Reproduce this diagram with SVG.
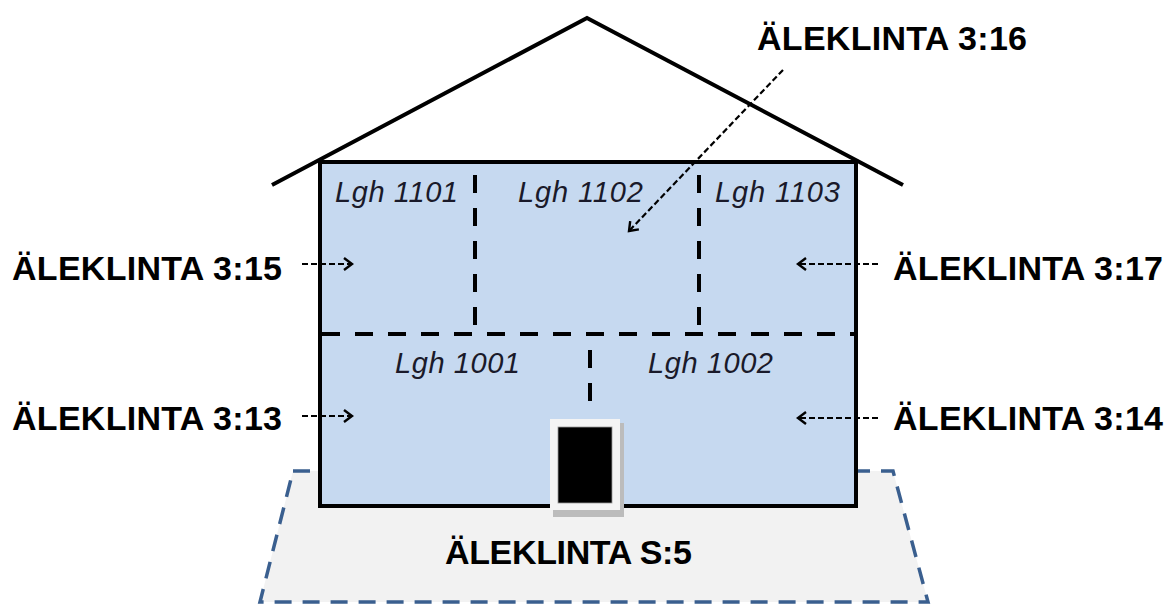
<svg xmlns="http://www.w3.org/2000/svg" width="1172" height="604" viewBox="0 0 1172 604">
<style>
.lbl{font-family:"Liberation Sans",Arial,sans-serif;font-weight:bold;font-size:34px;fill:#000}
.lgh{font-family:"Liberation Sans",Arial,sans-serif;font-style:italic;font-size:29px;fill:#1a1a2a}
.wall{fill:none;stroke:#000;stroke-width:4;stroke-dasharray:18,15}
.arr{fill:none;stroke:#000;stroke-width:2.2;stroke-dasharray:6,3;marker-end:url(#head)}
</style>
<defs>
<marker id="head" markerWidth="14" markerHeight="14" refX="10" refY="7" orient="auto" markerUnits="userSpaceOnUse">
<path d="M2,1 L10,7 L2,13" fill="none" stroke="#000" stroke-width="2.4"/>
</marker>
</defs>
<rect width="1172" height="604" fill="#fff"/>
<g id="foundation">
<polygon points="293,471 893,471 928,602 260,602" fill="#f2f2f2" stroke="#3a5f8f" stroke-width="3.5" stroke-dasharray="17,11"/>
</g>
<g id="building">
<rect x="320" y="162" width="536" height="344" fill="#c6d9f0" stroke="#000" stroke-width="4"/>
</g>
<g id="roof">
<polyline points="272,185 587,18 903,185" fill="none" stroke="#000" stroke-width="4"/>
</g>
<g id="walls">
<line class="wall" x1="322" y1="334" x2="854" y2="334"/>
<line class="wall" x1="475" y1="175" x2="475" y2="334"/>
<line class="wall" x1="699" y1="175" x2="699" y2="334"/>
<line class="wall" x1="590" y1="350" x2="590" y2="406" stroke-dasharray="19,16"/>
</g>
<g id="door">
<rect x="553" y="423" width="71" height="94" fill="#bcbcbc"/>
<rect x="550" y="419" width="70" height="91" fill="#f4f4f4"/>
<rect x="558" y="427" width="54" height="76" fill="#000" stroke="#999" stroke-width="0.8"/>
</g>
<g id="apartments">
<text class="lgh" x="335" y="202" textLength="123">Lgh 1101</text>
<text class="lgh" x="518" y="202" textLength="125">Lgh 1102</text>
<text class="lgh" x="715" y="202" textLength="125">Lgh 1103</text>
<text class="lgh" x="395" y="373" textLength="125">Lgh 1001</text>
<text class="lgh" x="648" y="373" textLength="125">Lgh 1002</text>
</g>
<g id="labels">
<text class="lbl" x="12" y="280" textLength="270">ÄLEKLINTA 3:15</text>
<text class="lbl" x="12" y="430" textLength="270">ÄLEKLINTA 3:13</text>
<text class="lbl" x="893" y="280" textLength="270">ÄLEKLINTA 3:17</text>
<text class="lbl" x="893" y="430" textLength="270">ÄLEKLINTA 3:14</text>
<text class="lbl" x="757" y="50" textLength="270">ÄLEKLINTA 3:16</text>
<text class="lbl" x="445" y="564" textLength="247">ÄLEKLINTA S:5</text>
</g>
<g id="connectors">
<line class="arr" x1="302" y1="264" x2="352" y2="264"/>
<line class="arr" x1="302" y1="416" x2="352" y2="416"/>
<line class="arr" x1="878" y1="264" x2="798" y2="264"/>
<line class="arr" x1="878" y1="418" x2="798" y2="418"/>
<line class="arr" x1="783" y1="70" x2="629" y2="231"/>
</g>
</svg>
